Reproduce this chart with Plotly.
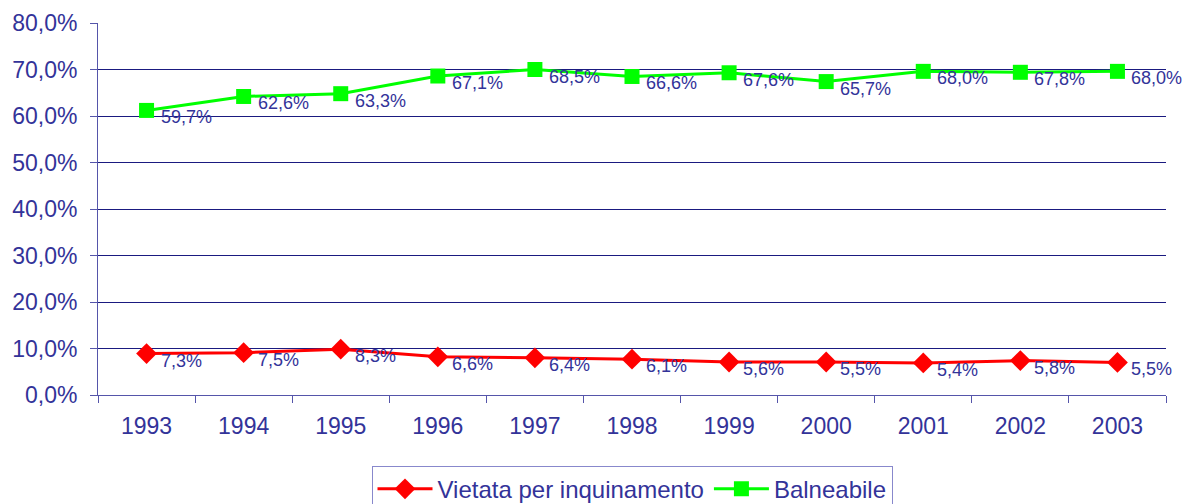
import plotly.graph_objects as go

years = ["1993", "1994", "1995", "1996", "1997", "1998",
         "1999", "2000", "2001", "2002", "2003"]

# plotted positions (percent)
vietata = [8.9, 9.1, 9.85, 8.2, 8.0, 7.7, 7.1, 7.1, 6.9, 7.4, 7.0]
balneabile = [61.2, 64.2, 64.8, 68.6, 70.0, 68.5, 69.3, 67.4, 69.6, 69.4, 69.6]

# data label texts as printed on the chart
vietata_lbl = ["7,3%", "7,5%", "8,3%", "6,6%", "6,4%", "6,1%",
               "5,6%", "5,5%", "5,4%", "5,8%", "5,5%"]
balneabile_lbl = ["59,7%", "62,6%", "63,3%", "67,1%", "68,5%", "66,6%",
                  "67,6%", "65,7%", "68,0%", "67,8%", "68,0%"]

navy = "#333399"
font = "Liberation Sans, Arial, sans-serif"

fig = go.Figure()
fig.add_trace(go.Scatter(
    x=years, y=vietata, name="Vietata per inquinamento",
    mode="lines+markers", cliponaxis=False,
    line=dict(color="#ff0000", width=3),
    marker=dict(symbol="diamond", size=16, color="#ff0000")))
fig.add_trace(go.Scatter(
    x=years, y=balneabile, name="Balneabile",
    mode="lines+markers", cliponaxis=False,
    line=dict(color="#00ff00", width=3),
    marker=dict(symbol="square", size=15, color="#00ff00")))

# data labels sit just right of and a little below each marker
# (category axis: annotations are placed by category index)
for vals, lbls in [(vietata, vietata_lbl), (balneabile, balneabile_lbl)]:
    for i, (v, t) in enumerate(zip(vals, lbls)):
        fig.add_annotation(x=i, y=v, text=t, showarrow=False,
                           xanchor="left", yanchor="middle", xshift=12, yshift=-7,
                           font=dict(size=18, color=navy, family=font))

fig.update_layout(
    width=1184, height=504,
    margin=dict(l=98, r=18, t=23, b=109, autoexpand=False),
    plot_bgcolor="white", paper_bgcolor="white",
    separators=",.",
    font=dict(family=font, size=23, color=navy),
    showlegend=True,
    legend=dict(orientation="h", x=0.5, xanchor="center", y=-0.19, yanchor="top",
                bordercolor="#8888cc", borderwidth=1, font=dict(size=24, color=navy),
                itemwidth=55, traceorder="normal"),
)
fig.update_xaxes(
    type="category", range=[-0.5, 10.5],
    showline=True, linecolor="#5555aa", linewidth=1,
    ticks="outside", ticklen=7, tickcolor="#5555aa", tickson="boundaries",
    showgrid=False, ticklabelstandoff=10, tickfont=dict(size=23, color=navy))
fig.update_yaxes(
    range=[0, 80], dtick=10, tickformat=".1f", ticksuffix="%",
    showline=True, linecolor="#5555aa", linewidth=1,
    ticks="outside", ticklen=7, tickcolor="#5555aa", ticklabelstandoff=8,
    showgrid=True, gridcolor="#1a1a80", gridwidth=1,
    zeroline=False, tickfont=dict(size=23, color=navy))

fig.write_html("out.html", config={"displayModeBar": False},
               post_script="document.body.style.margin='0';")
